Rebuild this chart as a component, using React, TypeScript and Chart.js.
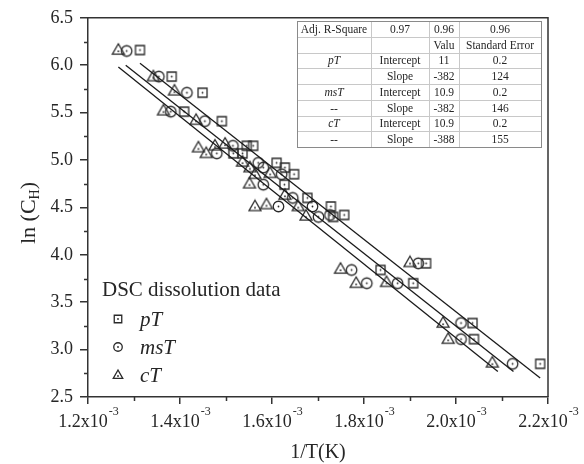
import React, { useEffect, useRef } from 'react';
import { Chart, registerables } from 'chart.js';

Chart.register(...registerables);

// 1/T values are given in units of 1e-3 K^-1
const pTx = [1.313, 1.382, 1.449, 1.409, 1.491, 1.545, 1.559, 1.516, 1.536, 1.610, 1.628, 1.648, 1.627, 1.677, 1.728, 1.733, 1.757, 1.836, 1.907, 1.935, 2.036, 2.039, 2.183];
const pTy = [6.16, 5.88, 5.71, 5.51, 5.41, 5.15, 5.15, 5.07, 5.07, 4.97, 4.92, 4.85, 4.74, 4.60, 4.51, 4.40, 4.42, 3.84, 3.70, 3.91, 3.28, 3.11, 2.85];

const msTx = [1.284, 1.354, 1.415, 1.380, 1.454, 1.515, 1.480, 1.570, 1.581, 1.621, 1.581, 1.645, 1.688, 1.614, 1.701, 1.726, 1.773, 1.806, 1.873, 1.918, 2.011, 2.011, 2.123];
const msTy = [6.15, 5.88, 5.71, 5.51, 5.41, 5.15, 5.07, 4.97, 4.92, 4.85, 4.74, 4.60, 4.51, 4.51, 4.40, 4.42, 3.84, 3.70, 3.70, 3.91, 3.28, 3.11, 2.85];

const cTx = [1.266, 1.342, 1.388, 1.364, 1.435, 1.440, 1.457, 1.476, 1.498, 1.536, 1.552, 1.563, 1.596, 1.551, 1.628, 1.657, 1.563, 1.588, 1.674, 1.749, 1.783, 1.849, 1.900, 1.972, 1.983, 2.079];
const cTy = [6.16, 5.88, 5.73, 5.52, 5.42, 5.13, 5.07, 5.15, 5.17, 4.98, 4.92, 4.85, 4.86, 4.75, 4.63, 4.51, 4.51, 4.53, 4.41, 3.85, 3.70, 3.71, 3.92, 3.28, 3.11, 2.86];

// linear fit lines (end points)
const pTFitX = [1.313, 2.183];
const pTFitY = [6.02, 2.70];
const msTFitX = [1.282, 2.125];
const msTFitY = [6.00, 2.77];
const cTFitX = [1.266, 2.091];
const cTFitY = [5.98, 2.77];

const xMajorTicks = [1.2, 1.4, 1.6, 1.8, 2.0, 2.2];
const xMinorTicks = [1.3, 1.5, 1.7, 1.9, 2.1];
const yMinorTicks = [2.75, 3.25, 3.75, 4.25, 4.75, 5.25, 5.75, 6.25];

const seriesNames = ['pT', 'msT', 'cT'];
const legendTitle = 'DSC dissolution data';
const xTitle = '1/T(K)';

const tableRows = [
  ['Adj. R-Square', '0.97', '0.96', '0.96'],
  ['', '', 'Valu', 'Standard Error'],
  ['pT', 'Intercept', '11', '0.2'],
  ['', 'Slope', '-382', '124'],
  ['msT', 'Intercept', '10.9', '0.2'],
  ['--', 'Slope', '-382', '146'],
  ['cT', 'Intercept', '10.9', '0.2'],
  ['--', 'Slope', '-388', '155'],
];

const SERIF = "'Liberation Serif', 'Times New Roman', serif";
const INK = '#262626';
const AXIS = '#333333';

type Kind = 'square' | 'circle' | 'triangle';

function drawMarker(ctx: CanvasRenderingContext2D, kind: Kind, cx: number, cy: number, s: number) {
  ctx.save();
  ctx.strokeStyle = '#2a2a2a';
  ctx.fillStyle = '#2a2a2a';
  ctx.lineWidth = 1.3;
  ctx.beginPath();
  let dy = 0;
  if (kind === 'square') {
    ctx.rect(cx - s / 2, cy - s / 2, s, s);
  } else if (kind === 'circle') {
    ctx.arc(cx, cy, s / 2, 0, Math.PI * 2);
  } else {
    const h = s * 0.87;
    ctx.moveTo(cx, cy - h * 0.6);
    ctx.lineTo(cx + s / 2, cy + h * 0.4);
    ctx.lineTo(cx - s / 2, cy + h * 0.4);
    ctx.closePath();
    dy = h * 0.12;
  }
  ctx.stroke();
  ctx.beginPath();
  ctx.arc(cx, cy + dy, 0.9, 0, Math.PI * 2);
  ctx.fill();
  ctx.restore();
}

function markerCanvas(kind: Kind, s: number) {
  const c = document.createElement('canvas');
  const n = Math.ceil(s + 4);
  c.width = n;
  c.height = n;
  const g = c.getContext('2d')!;
  drawMarker(g, kind, n / 2, n / 2, s);
  return c;
}

const kinds: Kind[] = ['square', 'circle', 'triangle'];
const sizes = [9, 10.5, 12];
const legendSizes = [7.5, 8.5, 9.5];

const decorPlugin = {
  id: 'decor',
  afterDraw(chart: any) {
    const { ctx, chartArea: a, scales } = chart;
    const xs = scales.x;
    const ys = scales.y;
    ctx.save();

    // frame top & right
    ctx.strokeStyle = AXIS;
    ctx.lineWidth = 1.5;
    ctx.beginPath();
    ctx.moveTo(a.left, a.top);
    ctx.lineTo(a.right, a.top);
    ctx.lineTo(a.right, a.bottom);
    ctx.stroke();

    // minor ticks
    ctx.beginPath();
    xMinorTicks.forEach((v) => {
      const px = Math.round(xs.getPixelForValue(v)) + 0.5;
      ctx.moveTo(px, a.bottom);
      ctx.lineTo(px, a.bottom + 4);
    });
    yMinorTicks.forEach((v) => {
      const py = Math.round(ys.getPixelForValue(v)) + 0.5;
      ctx.moveTo(a.left, py);
      ctx.lineTo(a.left - 4, py);
    });
    ctx.stroke();

    // x tick labels with superscript
    ctx.fillStyle = INK;
    ctx.textBaseline = 'alphabetic';
    ctx.textAlign = 'left';
    xMajorTicks.forEach((v) => {
      const px = xs.getPixelForValue(v);
      const main = v.toFixed(1) + 'x10';
      const sup = '-3';
      ctx.font = `18px ${SERIF}`;
      const w1 = ctx.measureText(main).width;
      ctx.font = `12px ${SERIF}`;
      const w2 = ctx.measureText(sup).width;
      const x0 = px - (w1 + w2) / 2;
      ctx.font = `18px ${SERIF}`;
      ctx.fillText(main, x0, a.bottom + 30);
      ctx.font = `12px ${SERIF}`;
      ctx.fillText(sup, x0 + w1 + 1, a.bottom + 18);
    });

    // x title
    ctx.font = `20px ${SERIF}`;
    ctx.textAlign = 'center';
    ctx.fillText(xTitle, (a.left + a.right) / 2, 458);

    // y title with subscript
    ctx.save();
    ctx.translate(35, 213);
    ctx.rotate(-Math.PI / 2);
    ctx.textAlign = 'left';
    const p1 = 'ln (C';
    const p2 = 'H';
    const p3 = ')';
    ctx.font = `22px ${SERIF}`;
    const w1 = ctx.measureText(p1).width;
    const w3 = ctx.measureText(p3).width;
    ctx.font = `14px ${SERIF}`;
    const w2 = ctx.measureText(p2).width;
    let sx = -(w1 + w2 + w3) / 2;
    ctx.font = `22px ${SERIF}`;
    ctx.fillText(p1, sx, 0);
    sx += w1;
    ctx.font = `14px ${SERIF}`;
    ctx.fillText(p2, sx, 4);
    sx += w2;
    ctx.font = `22px ${SERIF}`;
    ctx.fillText(p3, sx, 0);
    ctx.restore();

    // legend
    ctx.textAlign = 'left';
    ctx.font = `21px ${SERIF}`;
    ctx.fillText(legendTitle, 102, 296);
    const rowsY = [319, 347, 375];
    seriesNames.forEach((name, i) => {
      drawMarker(ctx, kinds[i], 118, rowsY[i], legendSizes[i]);
      ctx.font = `italic 21px ${SERIF}`;
      ctx.fillStyle = INK;
      ctx.fillText(name, 140, rowsY[i] + 7);
    });

    // table
    const colEdges = [297, 371, 429, 459, 541];
    const top = 21;
    const rowH = 15.75;
    const nRows = tableRows.length;
    const bottom = top + rowH * nRows;
    ctx.fillStyle = '#ffffff';
    ctx.fillRect(colEdges[0], top, colEdges[4] - colEdges[0], bottom - top);
    ctx.strokeStyle = '#c8c8c8';
    ctx.lineWidth = 1;
    ctx.beginPath();
    for (let r = 1; r < nRows; r++) {
      const yy = Math.round(top + r * rowH) + 0.5;
      ctx.moveTo(colEdges[0], yy);
      ctx.lineTo(colEdges[4], yy);
    }
    for (let c = 1; c < colEdges.length - 1; c++) {
      const xx = colEdges[c] + 0.5;
      ctx.moveTo(xx, top);
      ctx.lineTo(xx, bottom);
    }
    ctx.stroke();
    ctx.strokeStyle = '#8a8a8a';
    ctx.strokeRect(colEdges[0] + 0.5, top + 0.5, colEdges[4] - colEdges[0], Math.round(bottom - top));
    ctx.fillStyle = INK;
    ctx.textAlign = 'center';
    ctx.textBaseline = 'middle';
    tableRows.forEach((row, r) => {
      row.forEach((cell, c) => {
        if (!cell) return;
        const italic = c === 0 && seriesNames.includes(cell);
        ctx.font = `${italic ? 'italic ' : ''}11.5px ${SERIF}`;
        const cx = (colEdges[c] + colEdges[c + 1]) / 2;
        ctx.fillText(cell, cx, top + r * rowH + rowH / 2 + 1);
      });
    });

    ctx.restore();
  },
};

export default function App() {
  const ref = useRef<HTMLCanvasElement | null>(null);

  useEffect(() => {
    if (!ref.current) return;
    const toPts = (xs: number[], ys: number[]) => xs.map((x, i) => ({ x, y: ys[i] }));
    const markerImgs = kinds.map((k, i) => markerCanvas(k, sizes[i]));
    const fitLine = (xs: number[], ys: number[]) => ({
      data: toPts(xs, ys),
      showLine: true,
      borderColor: '#1a1a1a',
      borderWidth: 1.3,
      pointRadius: 0,
      fill: false,
    });
    const chart = new Chart(ref.current, {
      type: 'scatter',
      data: {
        datasets: [
          fitLine(pTFitX, pTFitY),
          fitLine(msTFitX, msTFitY),
          fitLine(cTFitX, cTFitY),
          { label: seriesNames[0], data: toPts(pTx, pTy), pointStyle: markerImgs[0] as any, pointRadius: 5 },
          { label: seriesNames[1], data: toPts(msTx, msTy), pointStyle: markerImgs[1] as any, pointRadius: 5 },
          { label: seriesNames[2], data: toPts(cTx, cTy), pointStyle: markerImgs[2] as any, pointRadius: 5 },
        ],
      },
      options: {
        responsive: false,
        animation: false,
        events: [],
        layout: { padding: { top: 16, right: 36, left: 0, bottom: 0 } },
        plugins: { legend: { display: false }, tooltip: { enabled: false } },
        scales: {
          x: {
            type: 'linear',
            min: 1.2,
            max: 2.2,
            ticks: { stepSize: 0.2, display: false },
            grid: { display: true, drawOnChartArea: false, drawTicks: true, tickLength: 7, color: AXIS, lineWidth: 1.5 },
            border: { display: true, color: AXIS, width: 1.5 },
            afterFit: (s: any) => {
              s.height = 67;
            },
          },
          y: {
            type: 'linear',
            min: 2.5,
            max: 6.5,
            ticks: {
              stepSize: 0.5,
              padding: 7,
              color: INK,
              font: { family: SERIF, size: 18 },
              callback: (v: any) => Number(v).toFixed(1),
            },
            grid: { display: true, drawOnChartArea: false, drawTicks: true, tickLength: 8, color: AXIS, lineWidth: 1.5 },
            border: { display: true, color: AXIS, width: 1.5 },
            afterFit: (s: any) => {
              s.width = 88;
            },
          },
        },
      },
      plugins: [decorPlugin],
    });
    return () => chart.destroy();
  }, []);

  return (
    <div style={{ position: 'absolute', left: 0, top: 0, width: 584, height: 464, background: '#fff' }}>
      <canvas ref={ref} width={584} height={464} style={{ display: 'block' }} />
    </div>
  );
}
